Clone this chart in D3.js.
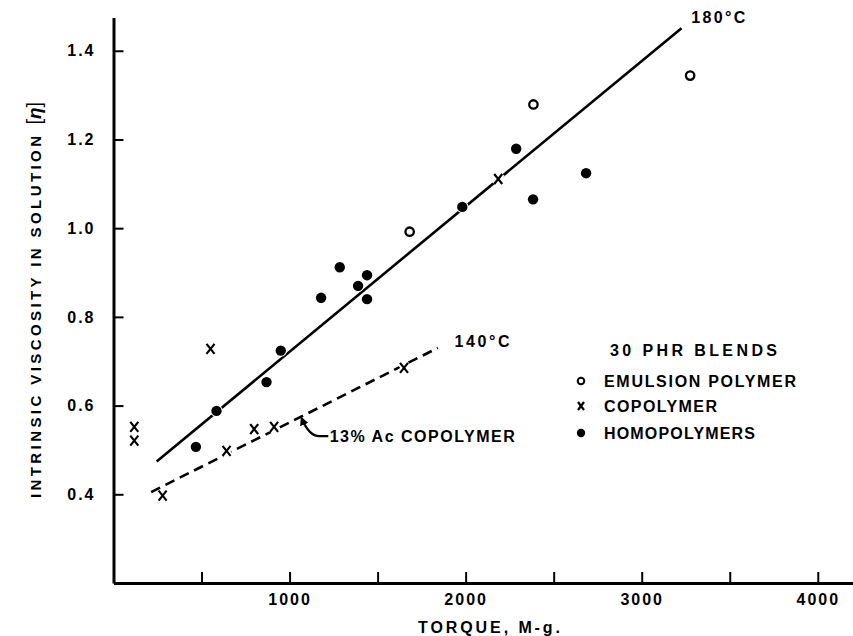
<!DOCTYPE html>
<html>
<head>
<meta charset="utf-8">
<script src="https://cdn.jsdelivr.net/npm/d3@7"></script>
<style>
  body { margin: 0; background: #fff; }
  svg text { font-family: "Liberation Sans", Arial, sans-serif; font-weight: bold; fill: #000; }
</style>
</head>
<body>
<div id="chart"></div>
<script>
// torque (M-g) vs intrinsic viscosity
const emulsion = [
    { x: 1682, y: 0.992 }, { x: 2385, y: 1.279 }, { x: 3275, y: 1.344 }
];
const copolymer = [
    { x: 118, y: 0.552 }, { x: 118, y: 0.521 }, { x: 279, y: 0.397 },
    { x: 551, y: 0.728 }, { x: 642, y: 0.498 }, { x: 799, y: 0.547 },
    { x: 912, y: 0.552 }, { x: 1650, y: 0.685 }, { x: 2185, y: 1.111 }
];
const homopolymers = [
    { x: 468, y: 0.507 }, { x: 585, y: 0.588 }, { x: 869, y: 0.653 },
    { x: 950, y: 0.724 }, { x: 1179, y: 0.843 }, { x: 1285, y: 0.912 },
    { x: 1389, y: 0.870 }, { x: 1440, y: 0.894 }, { x: 1440, y: 0.840 },
    { x: 1981, y: 1.048 }, { x: 2287, y: 1.179 }, { x: 2383, y: 1.065 },
    { x: 2684, y: 1.124 }
];
const line180 = [{ x: 245, y: 0.474 }, { x: 3226, y: 1.451 }];
const line140 = [{ x: 214, y: 0.405 }, { x: 1842, y: 0.730 }];

const xTicks = [500, 1000, 1500, 2000, 2500, 3000, 3500, 4000];
const xLabels = [1000, 2000, 3000, 4000];
const yTicks = [0.4, 0.6, 0.8, 1.0, 1.2, 1.4];

const legendItems = [
    { label: "EMULSION POLYMER", type: "open", len: 192 },
    { label: "COPOLYMER", type: "cross", len: 113 },
    { label: "HOMOPOLYMERS", type: "dot", len: 151 }
];

const width = 853, height = 636;

const svg = d3.select("#chart")
    .append("svg")
    .attr("width", width)
    .attr("height", height);

const x = d3.scaleLinear().domain([0, 4200]).range([113.5, 853]);
const y = d3.scaleLinear().domain([0.2, 1.475]).range([583, 17.5]);

// axes, ticks point inward
const xAxis = d3.axisBottom(x)
    .tickValues(xTicks)
    .tickSize(-11)
    .tickSizeOuter(0)
    .tickPadding(11)
    .tickFormat(d => xLabels.includes(d) ? d : "");

const yAxis = d3.axisLeft(y)
    .tickValues(yTicks)
    .tickSize(-10)
    .tickSizeOuter(0)
    .tickPadding(18)
    .tickFormat(d3.format(".1f"));

const gx = svg.append("g")
    .attr("transform", `translate(0,${y(0.2)})`)
    .call(xAxis);
gx.select(".domain").attr("stroke-width", 3);
gx.selectAll(".tick line").attr("stroke-width", 2);
gx.selectAll("text")
    .style("font-size", "16px")
    .style("letter-spacing", "2px");

const gy = svg.append("g")
    .attr("transform", `translate(${x(0)},0)`)
    .call(yAxis);
gy.select(".domain").attr("stroke-width", 3);
gy.selectAll(".tick line").attr("stroke-width", 2);
gy.selectAll("text")
    .style("font-size", "16px")
    .style("letter-spacing", "2px");

// axis titles
svg.append("text")
    .attr("x", 418)
    .attr("y", 633)
    .attr("textLength", 142)
    .attr("lengthAdjust", "spacing")
    .style("font-size", "16px")
    .text("TORQUE, M-g.");

const yTitle = svg.append("text")
    .attr("transform", "translate(41,498) rotate(-90)")
    .style("font-size", "15px");
yTitle.append("tspan")
    .attr("textLength", 362)
    .attr("lengthAdjust", "spacing")
    .text("INTRINSIC VISCOSITY IN SOLUTION");
yTitle.append("tspan")
    .attr("dx", 8)
    .style("font-size", "20px")
    .style("font-weight", "normal")
    .text("[");
yTitle.append("tspan")
    .style("font-size", "19px")
    .style("font-style", "italic")
    .text("η");
yTitle.append("tspan")
    .style("font-size", "20px")
    .style("font-weight", "normal")
    .text("]");

// fitted lines
const line = d3.line().x(d => x(d.x)).y(d => y(d.y));

svg.append("path")
    .datum(line180)
    .attr("d", line)
    .attr("fill", "none")
    .attr("stroke", "#000")
    .attr("stroke-width", 2.6);

svg.append("path")
    .datum(line140)
    .attr("d", line)
    .attr("fill", "none")
    .attr("stroke", "#000")
    .attr("stroke-width", 2.6)
    .attr("stroke-dasharray", "10,6");

svg.append("text")
    .attr("x", x(3281))
    .attr("y", y(1.463))
    .attr("textLength", 54)
    .attr("lengthAdjust", "spacing")
    .style("font-size", "16px")
    .text("180°C");

svg.append("text")
    .attr("x", x(1937))
    .attr("y", y(0.732))
    .attr("textLength", 55)
    .attr("lengthAdjust", "spacing")
    .style("font-size", "16px")
    .text("140°C");

// arrow for the 13% Ac copolymer line
svg.append("defs").append("marker")
    .attr("id", "arrow")
    .attr("viewBox", "0 0 10 10")
    .attr("refX", 8)
    .attr("refY", 5)
    .attr("markerWidth", 4)
    .attr("markerHeight", 4)
    .attr("orient", "auto")
    .append("path")
    .attr("d", "M0,0L10,5L0,10z");

svg.append("path")
    .attr("d", `M${x(1220)},${y(0.531)} L${x(1170)},${y(0.531)} Q${x(1110)},${y(0.531)} ${x(1068)},${y(0.572)}`)
    .attr("fill", "none")
    .attr("stroke", "#000")
    .attr("stroke-width", 2.2)
    .attr("marker-end", "url(#arrow)");

svg.append("text")
    .attr("x", x(1228))
    .attr("y", y(0.531))
    .attr("dy", "0.36em")
    .attr("textLength", 185)
    .attr("lengthAdjust", "spacing")
    .style("font-size", "16px")
    .text("13% Ac COPOLYMER");

// markers
function drawCross(g, size) {
    const d = `M${-size * 0.4},${-size / 2}L${size * 0.4},${size / 2}M${size * 0.4},${-size / 2}L${-size * 0.4},${size / 2}`;
    g.append("path").attr("d", d).attr("stroke", "#fff").attr("stroke-width", 6);
    g.append("path").attr("d", d).attr("stroke", "#000").attr("stroke-width", 2.2);
}

svg.selectAll(".homo")
    .data(homopolymers)
    .enter()
    .append("circle")
    .attr("class", "homo")
    .attr("cx", d => x(d.x))
    .attr("cy", d => y(d.y))
    .attr("r", 5.2)
    .attr("fill", "#000")
    .attr("stroke", "#fff")
    .attr("stroke-width", 2)
    .style("paint-order", "stroke");

svg.selectAll(".emul")
    .data(emulsion)
    .enter()
    .append("circle")
    .attr("class", "emul")
    .attr("cx", d => x(d.x))
    .attr("cy", d => y(d.y))
    .attr("r", 4.2)
    .attr("fill", "#fff")
    .attr("stroke", "#000")
    .attr("stroke-width", 2.3);

svg.selectAll(".copo")
    .data(copolymer)
    .enter()
    .append("g")
    .attr("class", "copo")
    .attr("transform", d => `translate(${x(d.x)},${y(d.y)})`)
    .each(function () { drawCross(d3.select(this), 10); });

// legend
const legend = svg.append("g").attr("transform", "translate(581,0)");

legend.append("text")
    .attr("x", 29)
    .attr("y", 356)
    .attr("textLength", 167)
    .attr("lengthAdjust", "spacing")
    .style("font-size", "16px")
    .text("30 PHR BLENDS");

const rows = legend.selectAll(".row")
    .data(legendItems)
    .enter()
    .append("g")
    .attr("class", "row")
    .attr("transform", (d, i) => `translate(0,${[381, 406, 433][i]})`);

rows.append("text")
    .attr("x", 23)
    .attr("dy", "0.36em")
    .attr("textLength", d => d.len)
    .attr("lengthAdjust", "spacing")
    .style("font-size", "16px")
    .text(d => d.label);

rows.each(function (d) {
    const g = d3.select(this);
    if (d.type === "open") {
        g.append("circle").attr("r", 3.3).attr("fill", "none").attr("stroke", "#000").attr("stroke-width", 2);
    } else if (d.type === "dot") {
        g.append("circle").attr("r", 4.2).attr("fill", "#000");
    } else {
        g.append("path")
            .attr("d", "M-3,-4L3,4M3,-4L-3,4")
            .attr("stroke", "#000")
            .attr("stroke-width", 2.2);
    }
});
</script>
</body>
</html>
